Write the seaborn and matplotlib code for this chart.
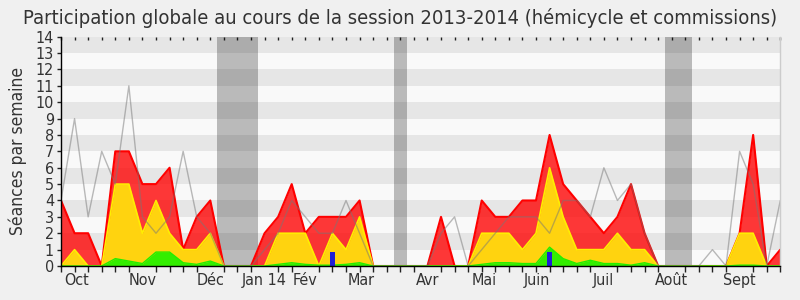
import matplotlib
matplotlib.use("Agg")
import matplotlib.pyplot as plt
import seaborn as sns
from matplotlib.ticker import FixedLocator, NullFormatter

# ---------------- data (one value per week, session 2013-2014) ----------------
weeks = list(range(54))
presence_total = [4, 2, 2, 0, 7, 7, 5, 5, 6, 1, 3, 4, 0, 0, 0, 2, 3, 5, 2, 3,
                  3, 3, 4, 0, 0, 0, 0, 0, 3, 0, 0, 4, 3, 3, 4, 4, 8, 5, 4, 3,
                  2, 3, 5, 2, 0, 0, 0, 0, 0, 0, 2, 8, 0, 1]
presence_commissions = [0, 1, 0, 0, 5, 5, 2, 4, 2, 1, 1, 2, 0, 0, 0, 0, 2, 2, 2, 0,
                        2, 1, 3, 0, 0, 0, 0, 0, 0, 0, 0, 2, 2, 2, 1, 2, 6, 3, 1, 1,
                        1, 2, 1, 1, 0, 0, 0, 0, 0, 0, 2, 2, 0, 0]
interventions = [0, 0, 0, 0, 0.45, 0.3, 0.15, 0.85, 0.85, 0.2, 0.1, 0.3, 0, 0, 0, 0,
                 0.1, 0.2, 0.1, 0.05, 0.05, 0.1, 0.2, 0, 0, 0, 0, 0, 0, 0, 0, 0.1,
                 0.2, 0.2, 0.15, 0.15, 1.15, 0.45, 0.15, 0.35, 0.15, 0.15, 0.05, 0.2,
                 0, 0, 0, 0, 0, 0, 0.05, 0.05, 0, 0]
mediane = [4, 9, 3, 7, 5, 11, 3, 2, 3, 7, 3, 2, 0, 0, 0, 1, 2, 4, 3, 2,
           2, 4, 2, 0, 0, 0, 0, 0, 2, 3, 0, 1, 2, 3, 3, 3, 2, 4, 4, 3,
           6, 4, 5, 2, 0, 0, 0, 0, 1, 0, 7, 5, 0, 4]
questions = [0] * 54
questions[20] = 0.87
questions[36] = 0.87

month_labels = ["Oct", "Nov", "Déc", "Jan 14", "Fév", "Mar", "Avr", "Mai",
                "Juin", "Juil", "Août", "Sept"]
month_pos = [1.15, 6, 11, 15, 18, 22.1, 27, 31.2, 35.1, 40, 45, 50]
vacances = [(11.5, 14.5), (24.5, 25.5), (44.5, 46.5)]

title = "Participation globale au cours de la session 2013-2014 (hémicycle et commissions)"
ylabel = "Séances par semaine"

# ---------------- style ----------------
sns.set_theme(style="white")
plt.rcParams["font.family"] = ["DejaVu Sans"]
plt.rcParams["font.stretch"] = "condensed"
plt.rcParams["text.color"] = "#333333"

fig = plt.figure(figsize=(8, 3), dpi=100, facecolor="#F0F0F0")
ax = fig.add_axes([61 / 800, 34 / 300, 719.3 / 800, 229.3 / 300])
ax.set_facecolor("#F9F9F9")

for k in range(1, 14, 2):
    ax.axhspan(k, k + 1, color="#E6E6E6", lw=0, zorder=0)
for a, b in vacances:
    ax.axvspan(a, b, color="black", alpha=0.25, lw=0, zorder=1)

# red area: total
ax.fill_between(weeks, presence_total, color="#FF0000", alpha=0.78, lw=0, zorder=3)
sns.lineplot(x=weeks, y=presence_total, color="#FF0000", lw=1.5, ax=ax, zorder=4)
# yellow area: commissions
ax.fill_between(weeks, presence_commissions, color="#FFD30F", lw=0, zorder=5)
sns.lineplot(x=weeks, y=presence_commissions, color="#FFEE00", lw=1.2, ax=ax, zorder=6)
# green area
ax.fill_between(weeks, interventions, color="#33EE00", lw=0, zorder=7)
sns.lineplot(x=weeks, y=interventions, color="#22EE00", lw=1, ax=ax, zorder=8)
# blue bars
ax.bar(weeks, questions, width=0.37, color="#1F1FD6", lw=0, zorder=9)
# grey median line
sns.lineplot(x=weeks, y=mediane, color="#777777", alpha=0.5, lw=1, ax=ax, zorder=10)

ax.set_xlim(0, 53)
ax.set_ylim(0, 14)
ax.set_yticks(range(0, 15))
ax.set_yticklabels([str(v) for v in range(0, 15)])
ax.xaxis.set_major_locator(FixedLocator(month_pos))
ax.set_xticklabels(month_labels)
ax.xaxis.set_minor_locator(FixedLocator(weeks))
ax.tick_params(axis="x", which="major", length=0, pad=5, labelsize=11.5, labelcolor="#333333")
ax.tick_params(axis="x", which="minor", bottom=True, top=False, direction="out",
               length=4, width=1, color="#222222")
ax.tick_params(axis="y", which="major", left=True, length=3, width=1, color="#222222",
               pad=2, labelsize=11.5, labelcolor="#333333")

# small inward ticks on top edge
top = ax.secondary_xaxis("top")
top.xaxis.set_major_locator(FixedLocator(weeks))
top.xaxis.set_major_formatter(NullFormatter())
top.tick_params(axis="x", direction="in", length=2, width=1, color="#222222")
top.spines["top"].set_visible(False)

ax.spines["top"].set_visible(False)
ax.spines["right"].set_color("#CCCCCC")
ax.spines["left"].set_color("black")
ax.spines["bottom"].set_color("black")
for s in ["left", "bottom", "right"]:
    ax.spines[s].set_linewidth(1)
    ax.spines[s].set_zorder(11)

ax.set_xlabel("")
ax.set_ylabel(ylabel, fontsize=12.5, color="#333333", labelpad=6)
fig.text(0.5, 0.94, title, ha="center", va="center", fontsize=14.5, color="#333333")

fig.savefig("out.png", dpi=100, facecolor=fig.get_facecolor())
